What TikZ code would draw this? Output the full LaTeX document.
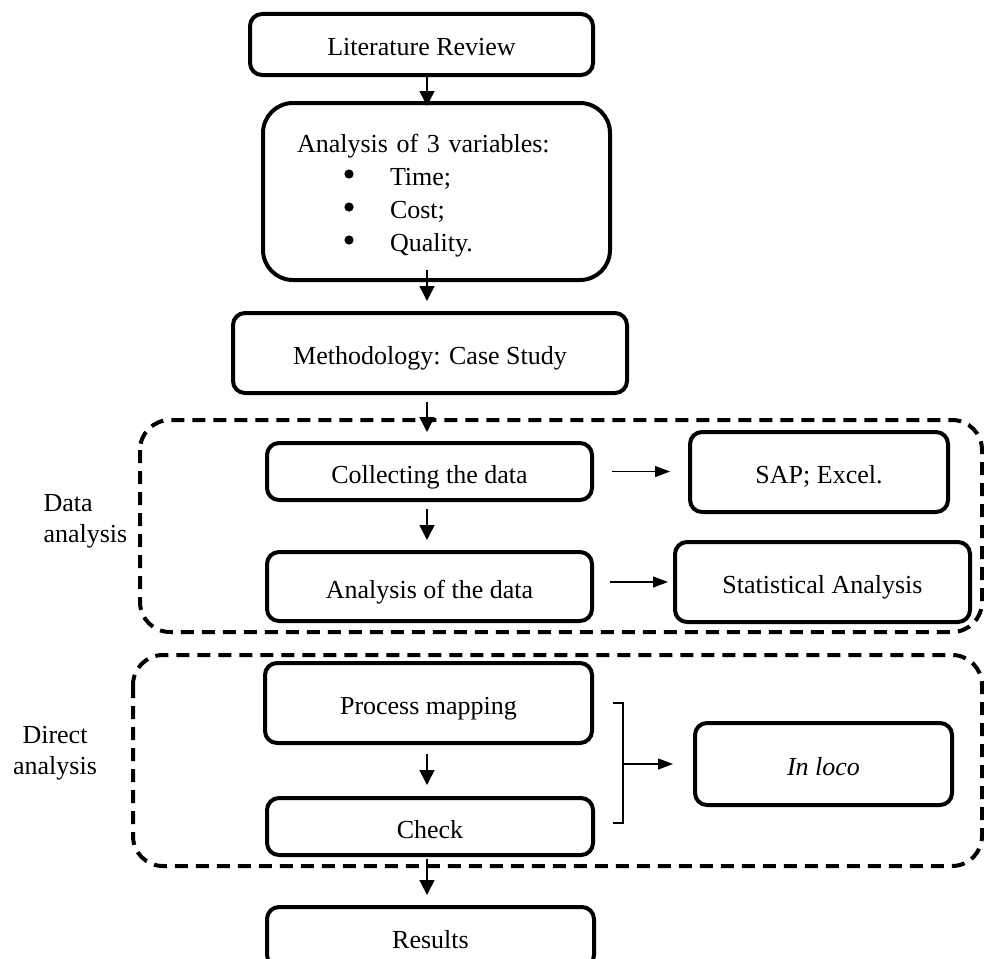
\documentclass[tikz,border=0pt]{standalone}
\usepackage{fontspec}
\setmainfont{Liberation Serif}
\usetikzlibrary{arrows.meta}
\begin{document}
\begin{tikzpicture}[x=1pt,y=-1pt,font=\fontsize{26}{31}\selectfont]
                \useasboundingbox (0,0) rectangle (984,958);
                \tikzstyle{stage}=[draw,line width=4pt,rounded corners=12pt,inner sep=0pt,align=center]
                \tikzstyle{frame}=[draw,line width=4pt,dash pattern=on 13pt off 8pt,rounded corners=30pt]
                \tikzstyle{down}=[line width=1.5pt,-{Triangle[width=15pt,length=15pt]}]
                \tikzstyle{side}=[line width=1.2pt,-{Triangle[width=11pt,length=15pt]}]
                \newcommand\stagebox[6]{\node[stage,text height=23pt,text depth=0pt,minimum width=#3pt,minimum height=#4pt] at (#1,#2) (#5) {#6};}
                \newcommand\dotitem{\makebox[93pt][l]{}}
                \coordinate (axis) at (427,0);
                % the two dashed groups
                \draw[frame] (140,420) rectangle (982,632);
                \draw[frame] (133,655) rectangle (982,866);
                \node[align=left,anchor=west] (datalbl) at (40,521) {Data\\analysis};
                \node[align=center] (directlbl) at (55,753) {Direct\\analysis};
                % main column
                \stagebox{421.5}{44.5}{343}{61}{lit}{Literature Review};
                \node[stage,rounded corners=30pt,minimum width=347pt,minimum height=177pt,
                      text width=279pt,align=left,font=\fontsize{26}{33}\selectfont] at (436.5,191.5) (vars)
                      {\rule{0pt}{27pt}Analysis of 3 variables:\\
                       \dotitem Time;\\
                       \dotitem Cost;\\
                       \dotitem Quality.};
                \foreach \y in {174,207,240}
                    \fill (349,\y) circle (4.6pt);
                \stagebox{430}{353}{394}{80}{meth}{Methodology: Case Study};
                \stagebox{429.5}{471.5}{325}{57}{collect}{Collecting the data};
                \stagebox{429.5}{586.5}{325}{69}{anadata}{Analysis of the data};
                \stagebox{428.5}{703}{327}{80}{process}{Process mapping};
                \stagebox{430}{826.5}{326}{57}{check}{Check};
                \stagebox{430.5}{937}{327}{60}{results}{Results};
                % side boxes
                \stagebox{819}{472}{258}{80}{sap}{SAP; Excel.};
                \stagebox{822.5}{582}{295}{80}{stat}{Statistical Analysis};
                \stagebox{823.5}{764}{257}{82}{inloco}{\textit{In loco}};
                % arrows down
                \draw[down] (lit.south -| axis) -- ([yshift=-5pt]vars.north -| axis);
                \draw[down,shorten <=-12pt,shorten >=10pt] (vars.south -| axis) -- (meth.north -| axis);
                \draw[down,shorten <=7pt,shorten >=9pt] (meth.south -| axis) -- (collect.north -| axis);
                \draw[down,shorten <=7pt,shorten >=10pt] (collect.south -| axis) -- (anadata.north -| axis);
                \draw[down,shorten <=9pt,shorten >=11pt] (process.south -| axis) -- (check.north -| axis);
                \draw[down,shorten <=2pt,shorten >=10pt] (check.south -| axis) -- (results.north -| axis);
                % arrows right
                \draw[side,shorten <=18pt,shorten >=18pt] (collect.east) -- (collect.east -| sap.west);
                \draw[side,shorten <=16pt,shorten >=5pt] (stat.west -| anadata.east) -- (stat.west);
                \coordinate (brtop) at (613,703);
                \coordinate (brbot) at (613,823);
                \coordinate (brmid) at (623,764);
                \draw[line width=1.2pt] (brtop) -- ++(10,0) |- (brbot);
                \draw[side,shorten >=20pt] (brmid) -- (inloco.west);
            \end{tikzpicture}
\end{document}
